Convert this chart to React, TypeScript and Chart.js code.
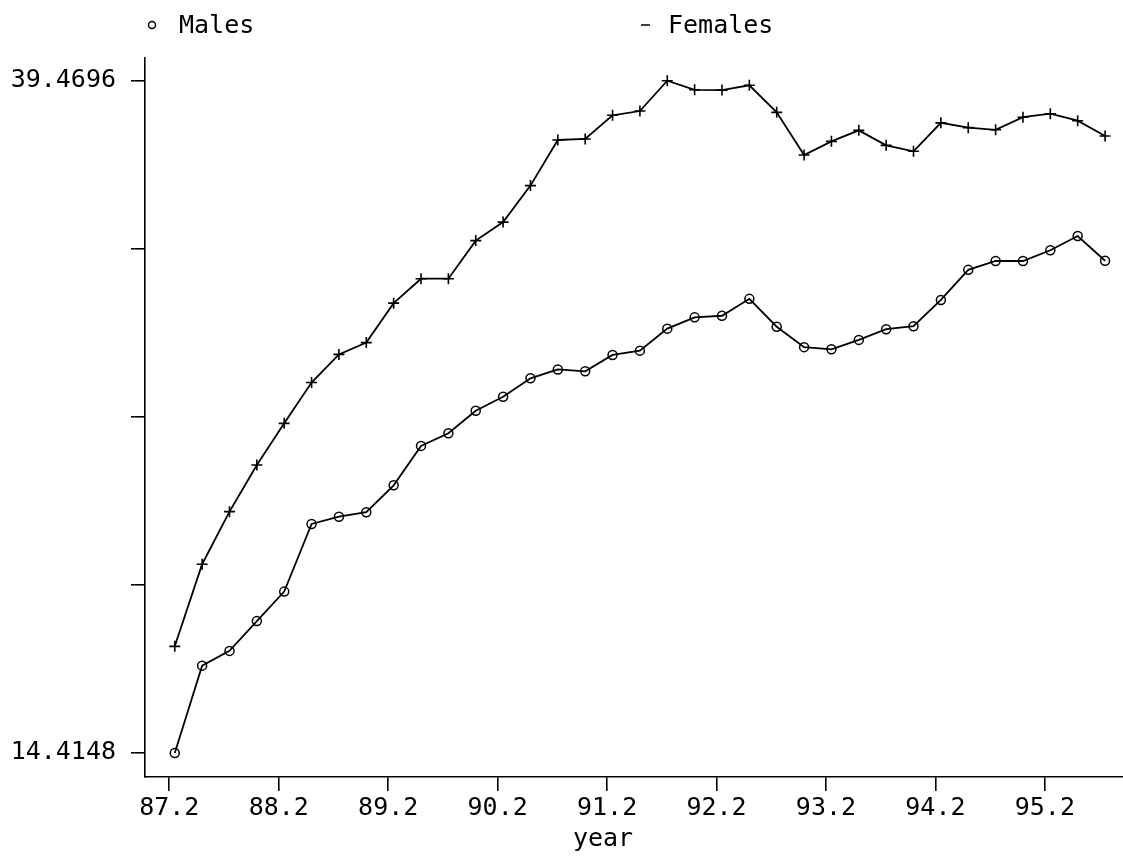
import React, { useEffect, useRef } from "react";
import { Chart, registerables } from "chart.js";

Chart.register(...registerables);

// ---- data ----
const quarters = [
  87.25, 87.5, 87.75,
  88, 88.25, 88.5, 88.75,
  89, 89.25, 89.5, 89.75,
  90, 90.25, 90.5, 90.75,
  91, 91.25, 91.5, 91.75,
  92, 92.25, 92.5, 92.75,
  93, 93.25, 93.5, 93.75,
  94, 94.25, 94.5, 94.75,
  95, 95.25, 95.5, 95.75,
];

const males = [
  14.4148, 17.67, 18.22, 19.33, 20.43, 22.95, 23.22, 23.39, 24.39, 25.86,
  26.33, 27.17, 27.69, 28.38, 28.71, 28.64, 29.25, 29.41, 30.23, 30.65,
  30.71, 31.34, 30.3, 29.54, 29.46, 29.81, 30.21, 30.32, 31.3, 32.42,
  32.75, 32.75, 33.15, 33.68, 32.76,
];

const females = [
  18.39, 21.45, 23.41, 25.15, 26.7, 28.22, 29.27, 29.71, 31.18, 32.09,
  32.09, 33.51, 34.2, 35.56, 37.26, 37.3, 38.18, 38.34, 39.4696, 39.13,
  39.12, 39.3, 38.29, 36.7, 37.21, 37.62, 37.06, 36.84, 37.9, 37.72,
  37.64, 38.11, 38.24, 37.98, 37.41,
];

const seriesNames = ["Males", "Females"];

const xTickValues = [87.2, 88.2, 89.2, 90.2, 91.2, 92.2, 93.2, 94.2, 95.2];
const xTickLabels = ["87.2", "88.2", "89.2", "90.2", "91.2", "92.2", "93.2", "94.2", "95.2"];

const yTickValues = [14.4148, 20.6785, 26.9422, 33.2059, 39.4696];
const yTickLabels = ["14.4148", "", "", "", "39.4696"];

const xAxisTitle = "year";

// ---- styling ----
const FONT_FAMILY = '"DejaVu Sans Mono", "Liberation Mono", monospace';
const FONT_SIZE = 25;

const textPlugin = {
  id: "plotTexts",
  afterDraw(chart: any) {
    const ctx = chart.ctx as CanvasRenderingContext2D;
    ctx.save();
    ctx.font = `${FONT_SIZE}px ${FONT_FAMILY}`;
    ctx.fillStyle = "#000";
    ctx.strokeStyle = "#000";
    ctx.lineWidth = 1.5;
    ctx.textBaseline = "alphabetic";
    // Males marker (small circle)
    ctx.beginPath();
    ctx.arc(152, 25, 3.5, 0, Math.PI * 2);
    ctx.stroke();
    ctx.fillText(seriesNames[0], 179, 33);
    // Females marker (dash)
    ctx.beginPath();
    ctx.moveTo(641, 25);
    ctx.lineTo(650, 25);
    ctx.stroke();
    ctx.fillText(seriesNames[1], 668, 33);
    // x-axis title
    ctx.textAlign = "center";
    ctx.fillText(xAxisTitle, 603, 846);
    ctx.restore();
  },
};

export default function App() {
  const canvasRef = useRef<HTMLCanvasElement | null>(null);

  useEffect(() => {
    if (!canvasRef.current) return;
    const font = { family: FONT_FAMILY, size: FONT_SIZE };

    const chart = new Chart(canvasRef.current, {
      type: "line",
      data: {
        datasets: [
          {
            label: seriesNames[0],
            data: quarters.map((x, i) => ({ x, y: males[i] })),
            borderColor: "#000",
            borderWidth: 1.8,
            pointStyle: "circle",
            pointRadius: 4.5,
            pointBorderWidth: 1.5,
            pointBorderColor: "#000",
            pointBackgroundColor: "rgba(255,255,255,0)",
            tension: 0,
            fill: false,
            clip: false,
          },
          {
            label: seriesNames[1],
            data: quarters.map((x, i) => ({ x, y: females[i] })),
            borderColor: "#000",
            borderWidth: 1.8,
            pointStyle: "cross",
            pointRadius: 5.5,
            pointBorderWidth: 1.6,
            pointBorderColor: "#000",
            pointBackgroundColor: "#000",
            tension: 0,
            fill: false,
            clip: false,
          },
        ],
      },
      options: {
        animation: false,
        responsive: false,
        events: [],
        layout: {
          autoPadding: false,
          padding: { top: 58, right: 0, left: 0, bottom: 0 },
        },
        plugins: {
          legend: { display: false },
          tooltip: { enabled: false },
          title: { display: false },
        },
        scales: {
          x: {
            type: "linear",
            min: 86.978,
            max: 95.914,
            afterBuildTicks: (scale: any) => {
              scale.ticks = xTickValues.map((v) => ({ value: v }));
            },
            afterFit: (scale: any) => {
              scale.height = 81;
              scale.paddingLeft = 0;
              scale.paddingRight = 0;
            },
            ticks: {
              autoSkip: false,
              maxRotation: 0,
              minRotation: 0,
              padding: 2,
              color: "#000",
              font,
              callback: (_v: any, i: number) => xTickLabels[i],
            },
            grid: {
              display: true,
              drawOnChartArea: false,
              drawTicks: true,
              tickLength: 14,
              color: "#000",
              lineWidth: 1.6,
            },
            border: { display: true, color: "#000", width: 1.6 },
            title: { display: false },
          },
          y: {
            type: "linear",
            min: 13.52,
            max: 40.316,
            afterBuildTicks: (scale: any) => {
              scale.ticks = yTickValues.map((v) => ({ value: v }));
            },
            afterFit: (scale: any) => {
              scale.width = 145;
              scale.paddingTop = 0;
              scale.paddingBottom = 0;
            },
            ticks: {
              autoSkip: false,
              padding: 15,
              color: "#000",
              font,
              callback: (_v: any, i: number) => yTickLabels[i],
            },
            grid: {
              display: true,
              drawOnChartArea: false,
              drawTicks: true,
              tickLength: 14,
              color: "#000",
              lineWidth: 1.6,
            },
            border: { display: true, color: "#000", width: 1.6 },
          },
        },
      },
      plugins: [textPlugin],
    } as any);

    return () => chart.destroy();
  }, []);

  return (
    <div
      style={{
        position: "absolute",
        left: 0,
        top: 0,
        width: 1123,
        height: 858,
        background: "#fff",
      }}
    >
      <canvas ref={canvasRef} width={1123} height={858} />
    </div>
  );
}
